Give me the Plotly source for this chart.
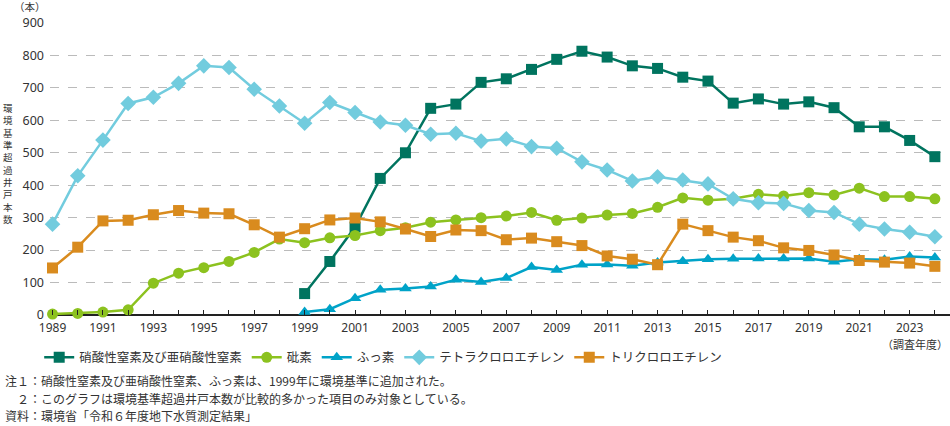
import plotly.graph_objects as go

years = list(range(1989, 2025))
years_new = list(range(1999, 2025))

nitrate = [66, 165, 271, 421, 500, 637, 650, 717, 728, 757, 788, 813, 795, 768,
           760, 733, 721, 653, 666, 650, 657, 639, 580, 580, 538, 488]
arsenic = [3, 5, 9, 16, 98, 129, 146, 165, 193, 234, 223, 238, 245, 260, 269, 286,
           293, 300, 305, 316, 292, 299, 308, 313, 332, 361, 354, 358, 372, 367,
           377, 370, 391, 365, 365, 358]
fluorine = [9, 18, 52, 78, 82, 88, 109, 102, 114, 148, 139, 155, 156, 152, 162, 166,
            172, 173, 174, 174, 174, 164, 172, 170, 180, 177]
tetra = [280, 429, 539, 652, 671, 714, 768, 763, 696, 644, 591, 655, 624, 595, 585,
         557, 560, 536, 543, 519, 514, 472, 447, 413, 426, 416, 404, 358, 346, 344,
         322, 316, 280, 265, 255, 241]
trichloro = [145, 209, 290, 292, 309, 322, 314, 312, 278, 240, 266, 293, 299, 287,
             265, 242, 262, 260, 232, 237, 226, 214, 182, 172, 155, 280, 260, 240,
             229, 207, 199, 185, 168, 163, 160, 150]

names = ["硝酸性窒素及び亜硝酸性窒素", "砒素", "ふっ素", "テトラクロロエチレン", "トリクロロエチレン"]
colors = ["#00745F", "#8CC21F", "#00A3C8", "#72CCDE", "#D98B1E"]
symbols = ["square", "circle", "triangle-up", "diamond", "square"]
sizes = [11, 11, 11, 12, 11]
series = [(years_new, nitrate), (years, arsenic), (years_new, fluorine),
          (years, tetra), (years, trichloro)]

FONT = "Noto Sans CJK JP"
NUMFONT = "Noto Sans"

fig = go.Figure()
for (xs, ys), name, c, s, sz in zip(series, names, colors, symbols, sizes):
    fig.add_trace(go.Scatter(
        x=xs, y=ys, name=name, mode="lines+markers",
        line=dict(color=c, width=2.5),
        marker=dict(color=c, symbol=s, size=sz),
        cliponaxis=False,
    ))

tickvals = years
ticktext = [str(y) if y % 2 == 1 else "" for y in years]

L, T = 49.5, 22.7
PW, PH = 900.5, 292.6

fig.update_layout(
    width=950, height=426,
    margin=dict(l=L, r=950 - L - PW, t=T, b=426 - T - PH, pad=0),
    plot_bgcolor="white", paper_bgcolor="white",
    font=dict(family=FONT, size=12, color="#333333"),
    showlegend=True,
    legend=dict(
        orientation="h", x=-0.012, xanchor="left", y=-0.095, yanchor="top",
        font=dict(size=12.5, color="#333333"), itemwidth=30,
        bgcolor="rgba(0,0,0,0)", tracegroupgap=0,
    ),
    xaxis=dict(
        range=[1988.9, 2024.6], tickmode="array", tickvals=tickvals, ticktext=ticktext,
        ticks="inside", ticklen=5, tickcolor="#222222", tickwidth=1,
        showgrid=False, zeroline=False, showline=False, ticklabelstandoff=4,
        tickfont=dict(family=NUMFONT, size=12, color="#333333"),
    ),
    yaxis=dict(
        range=[0, 900], tickvals=list(range(0, 901, 100)),
        showgrid=True, gridcolor="#BBBBBB", griddash="dash", gridwidth=1,
        zeroline=True, zerolinecolor="#222222", zerolinewidth=1.5,
        showline=False, ticks="", ticklabelstandoff=5,
        tickfont=dict(family=NUMFONT, size=12.5, color="#333333"),
    ),
)

ann = []
# unit label
ann.append(dict(text="（本）", x=0, xref="paper", xanchor="right", xshift=-2,
                y=1, yref="paper", yanchor="middle", yshift=16.5, showarrow=False,
                font=dict(size=10.5, color="#333333")))
# vertical y-axis title, stacked characters
title = "環境基準超過井戸本数"
ann.append(dict(text="<br>".join(title), x=0, xref="paper", xanchor="center",
                xshift=-42, y=(T + PH - 163) / PH, yref="paper", yanchor="middle",
                showarrow=False, font=dict(size=9.5, color="#333333")))
# x-axis unit
ann.append(dict(text="（調査年度）", x=1, xref="paper", xanchor="right", xshift=0,
                y=0, yref="paper", yanchor="middle", yshift=-(344.5 - (T + PH)),
                showarrow=False, font=dict(size=11, color="#333333")))
notes = [
    "注１：硝酸性窒素及び亜硝酸性窒素、ふっ素は、1999年に環境基準に追加された。",
    "　２：このグラフは環境基準超過井戸本数が比較的多かった項目のみ対象としている。",
    "資料：環境省「令和６年度地下水質測定結果」",
]
for i, n in enumerate(notes):
    py = 381 + 17.5 * i
    ann.append(dict(text=n, x=0, xref="paper", xanchor="left", xshift=-L + 2,
                    y=(T + PH - py) / PH, yref="paper", yanchor="middle",
                    showarrow=False, font=dict(size=12, color="#333333")))
fig.update_layout(annotations=ann)

fig.write_html("out.html")
